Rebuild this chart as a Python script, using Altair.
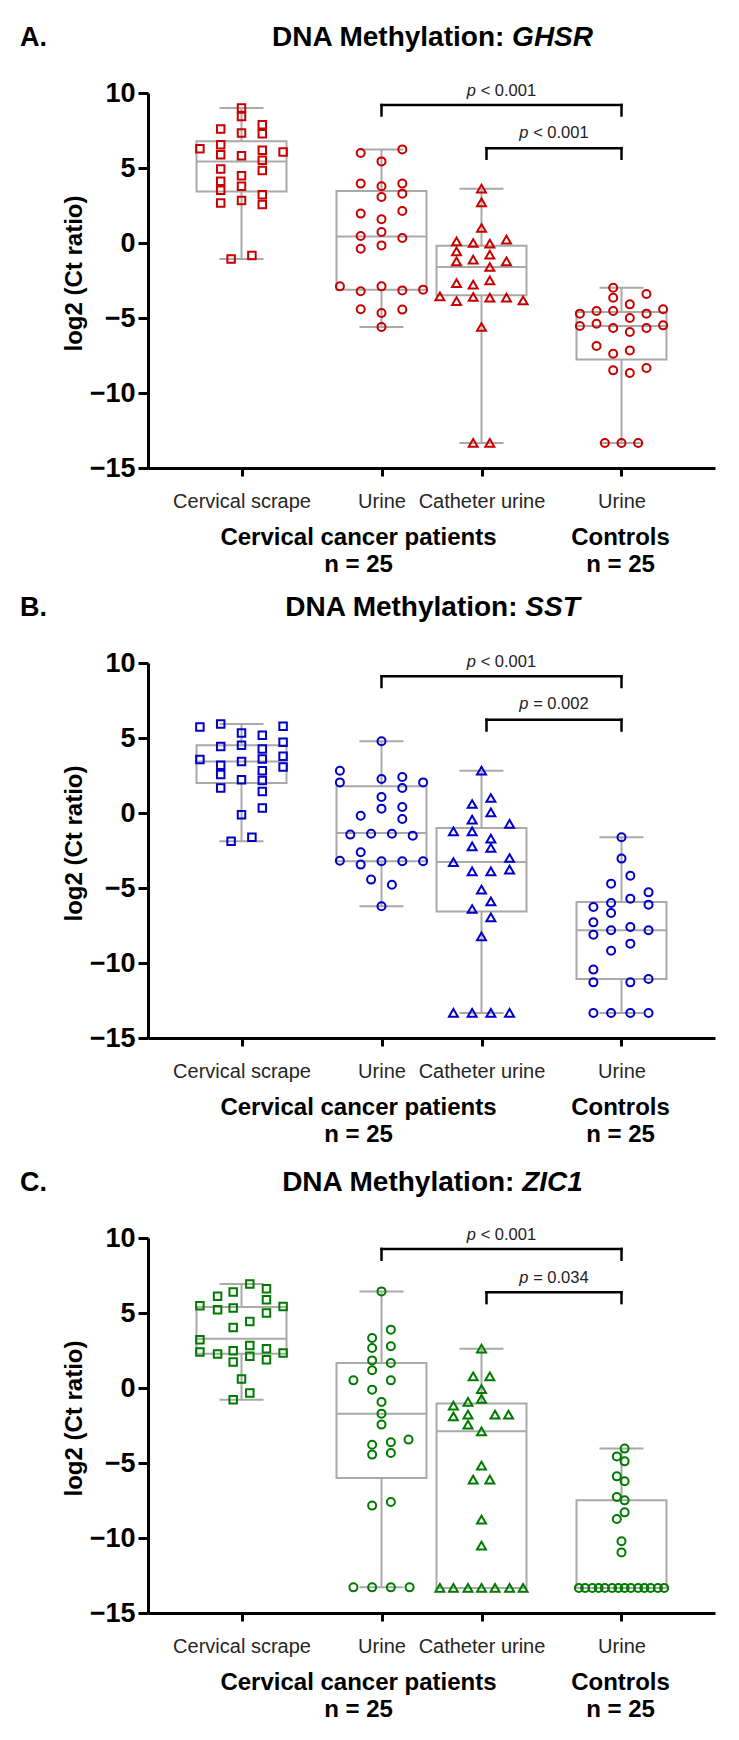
import altair as alt
import pandas as pd

# ---------------- categories / labels ----------------
CATEGORIES = ["Cervical scrape", "Urine", "Catheter urine", "Urine"]
CAT_POS = [1.0, 2.4, 3.4, 4.8]
SHAPES = ["square", "circle", "triangle-up", "circle"]
PANEL_LETTERS = ["A.", "B.", "C."]
PANEL_PREFIX = "DNA Methylation:"
PANEL_GENES = ["GHSR", "SST", "ZIC1"]
PANEL_COLORS = ["#c80000", "#0000c8", "#007a00"]
GROUP_LABELS = ["Cervical cancer patients", "Controls"]
GROUP_N = ["n = 25", "n = 25"]
GROUP_LABEL_POS = [2.17, 4.79]
Y_TICKS = [-15, -10, -5, 0, 5, 10]

# ---------------- panel A: GHSR ----------------
A_SCRAPE = [9.0, 8.44, 7.33, 5.82, 4.49, 3.78, 2.84, 7.6, 6.55, 5.89, 4.93, 4.11, 3.51, 2.67,
            7.89, 7.29, 6.18, 5.51, 4.84, 3.22, 2.56, 6.29, 6.07, -1.07, -0.84]
A_SCRAPE_SLOT = [0, 0, 0, 0, 0, 0, 0, -2, -2, -2, -2, -2, -2, -2, 2, 2, 2, 2, 2, 2, 2, -4, 4, -1, 1]
A_URINE = [6.0, 6.24, 5.44, 3.96, 3.78, 3.96, 3.07, 3.29, 1.96, 2.13, 1.58, 0.47, 0.73, 0.33,
           -0.38, -0.16, -2.89, -3.22, -2.89, -3.16, -3.11, -4.42, -4.67, -4.44, -5.6]
A_URINE_SLOT = [-2, 2, 0, -2, 0, 2, 0, 2, -2, 2, 0, -2, 0, 2, -2, 0, -4, -2, 0, 2, 4, -2, 0, 2, 0]
A_CATH = [3.62, 2.71, 1.0, 0.11, 0.0, -0.04, 0.22, -0.56, -0.78, -1.22, -1.11, -1.6, -1.22,
          -2.67, -2.78, -2.49, -3.56, -3.87, -3.6, -3.64, -3.64, -3.82, -5.6, -13.33, -13.33]
A_CATH_SLOT = [0, 0, 0, -2.4, -0.8, 0.8, 2.4, -2.4, 0.8, -2.4, -0.8, 0.8, 2.4, -2.4, -0.8, 0.8,
               -4, -2.4, -0.8, 0.8, 2.4, 4, 0, -0.8, 0.8]
A_CTRL = [-2.98, -3.65, -3.4, -4.09, -4.71, -4.53, -4.53, -4.71, -4.42, -5.0, -5.53, -5.38, -5.67,
          -5.67, -5.49, -5.93, -6.87, -7.38, -7.16, -8.49, -8.67, -8.33, -13.33, -13.33, -13.33]
A_CTRL_SLOT = [-0.8, -0.8, 2.4, 0.8, -4, -2.4, -0.8, 2.4, 4, 0.8, -4, -2.4, -0.8, 2.4, 4, 0.8,
               -2.4, -0.8, 0.8, -0.8, 0.8, 2.4, -1.6, 0, 1.6]
A_MIN = [-1.07, -5.6, -13.33, -13.33]
A_Q1 = [3.44, -3.11, -3.49, -7.76]
A_MED = [5.44, 0.44, -1.6, -5.53]
A_Q3 = [6.78, 3.47, -0.18, -4.6]
A_MAX = [9.0, 6.24, 3.62, -2.98]
A_BR_Y = [9.2, 6.32]
A_BR_LOW = [8.5, 5.62]
A_P_Y = [10.15, 7.35]
A_P = ["< 0.001", "< 0.001"]

# ---------------- panel B: SST ----------------
B_SCRAPE = [5.73, 5.93, 5.78, 5.33, 5.18, 4.44, 4.51, 4.27, 4.71, 3.56, 3.44, 3.6, 3.78, 3.18,
            2.82, 3.07, 2.56, 2.22, 2.16, 1.67, 1.44, 0.33, -0.11, -1.89, -1.62]
B_SCRAPE_SLOT = [-4, -2, 4, 0, 2, -2, 0, 2, 4, -4, 0, 2, 4, -2, 2, 4, -2, 0, 2, -2, 2, 2, 0, -1, 1]
B_URINE = [4.78, 2.82, 2.04, 2.27, 2.4, 2.04, 1.67, 1.07, 0.29, 0.4, -0.18, -0.4, -1.44, -1.38,
           -1.38, -1.51, -2.62, -3.18, -3.44, -3.22, -3.22, -3.22, -4.44, -4.78, -6.22]
B_URINE_SLOT = [0, -4, -4, 0, 2, 4, 2, 0, 0, 2, -2, 2, -3, -1, 1, 3, -2, -4, -2, 0, 2, 4, -1, 1, 0]
B_CATH = [2.82, 1.0, 0.6, 0.04, -0.44, -0.73, -1.22, -1.22, -1.71, -2.22, -2.33, -3.0, -3.27,
          -3.89, -3.89, -3.78, -5.11, -5.89, -6.4, -6.96, -8.22, -13.33, -13.33, -13.33, -13.33]
B_CATH_SLOT = [0, 0.9, -0.9, 0.9, -0.9, 2.7, -2.7, -0.9, 0.9, -0.9, 0.9, 2.7, -2.7, -0.9, 0.9,
               2.7, 0, 0.9, -0.9, 0.9, 0, -2.7, -0.9, 0.9, 2.7]
B_CTRL = [-1.62, -3.04, -4.18, -4.71, -5.29, -5.71, -6.0, -6.11, -6.27, -6.67, -7.29, -8.11, -7.82,
          -7.6, -7.82, -8.71, -9.18, -10.44, -11.29, -11.29, -11.07, -13.33, -13.33, -13.33, -13.33]
B_CTRL_SLOT = [0, 0, 0.85, -1, 2.6, 0.85, -1, 2.6, -2.7, -1, -2.7, -2.7, -1, 0.85, 2.6, 0.85,
               -1, -2.7, -2.7, 0.85, 2.6, -2.7, -1, 0.85, 2.6]
B_MIN = [-1.89, -6.22, -13.33, -13.33]
B_Q1 = [2.0, -3.22, -6.56, -11.07]
B_MED = [3.44, -1.33, -3.27, -7.82]
B_Q3 = [4.51, 1.78, -1.0, -5.93]
B_MAX = [5.93, 4.78, 2.82, -1.62]
B_BR_Y = [9.11, 6.22]
B_BR_LOW = [8.4, 5.5]
B_P_Y = [10.1, 7.25]
B_P = ["< 0.001", "= 0.002"]

# ---------------- panel C: ZIC1 ----------------
C_SCRAPE = [6.93, 6.11, 6.4, 6.62, 5.89, 5.49, 5.22, 5.33, 5.0, 5.44, 4.44, 4.04, 3.22, 2.4,
            2.27, 2.49, 1.73, 2.84, 2.11, 2.62, 1.89, 2.33, 0.6, -0.33, -0.78]
C_SCRAPE_SLOT = [0.8, -2.3, -0.8, 2.4, 2.4, -4, -2.3, -0.8, 2.4, 4, 0.8, -0.8, -4, -4, -2.3,
                 -0.8, -0.8, 0.8, 0.8, 2.4, 2.4, 4, 0, 0.8, -0.8]
C_URINE = [6.44, 3.89, 3.33, 2.67, 2.78, 1.84, 1.67, 1.18, 0.51, 0.51, -0.11, -0.93, -1.71, -2.44,
           -3.78, -3.62, -3.44, -4.44, -4.33, -7.84, -7.6, -13.29, -13.29, -13.29, -13.29]
C_URINE_SLOT = [0, 0.9, -0.9, -0.9, 0.9, -0.9, 0.9, -0.9, -2.7, 0.9, -0.9, 0, 0, 0, -0.9, 0.9,
                2.6, -0.9, 0.9, -0.9, 0.9, -2.7, -0.9, 0.9, 2.7]
C_CATH = [2.62, 0.78, 0.78, -0.07, -1.18, -0.93, -0.73, -1.89, -1.78, -1.78, -1.78, -2.44, -2.89,
          -5.18, -6.11, -6.11, -8.78, -10.51, -13.33, -13.33, -13.33, -13.33, -13.33, -13.33, -13.33]
C_CATH_SLOT = [0, -0.8, 0.8, 0, -2.7, -1.3, 0, -2.7, -1.3, 1.3, 2.6, -1.3, 0, 0, -0.8, 0.8, 0, 0,
               -4, -2.7, -1.3, 0, 1.3, 2.7, 4]
C_CTRL = [-4.04, -4.56, -4.89, -5.89, -6.22, -7.27, -7.49, -8.29, -8.73, -10.22, -10.96,
          -13.33, -13.33, -13.33, -13.33, -13.33, -13.33, -13.33, -13.33, -13.33, -13.33, -13.33,
          -13.33, -13.33, -13.33]
C_CTRL_SLOT = [0.3, -0.45, 0.3, -0.45, 0.3, -0.45, 0.3, 0.3, -0.45, 0, 0, -4.1, -3.5, -2.8, -2.2,
               -1.6, -0.9, -0.3, 0.3, 0.9, 1.6, 2.2, 2.8, 3.5, 4.1]
C_MIN = [-0.78, -13.29, -13.33, -13.33]
C_Q1 = [2.29, -6.0, -13.33, -13.33]
C_MED = [3.29, -1.71, -2.89, -13.33]
C_Q3 = [5.4, 1.67, -1.04, -7.49]
C_MAX = [6.93, 6.44, 2.62, -4.04]
C_BR_Y = [9.27, 6.38]
C_BR_LOW = [8.55, 5.66]
C_P_Y = [10.2, 7.33]
C_P = ["< 0.001", "= 0.034"]

BRACKET_FROM = [2.4, 3.45]
BRACKET_TO = [4.8, 4.8]

# ---------------- layout / style constants ----------------
FONT = "Liberation Sans, Arial, Helvetica, sans-serif"
PLOT_W, PLOT_H = 567, 375
X_DOMAIN = [0.065, 5.735]
Y_DOMAIN = [-15, 10]
SLOT = 0.104
BOX_HALF = 0.45
CAP_HALF = 0.22
GRAY = "#a9a9a9"
SIZES = {"square": 56, "circle": 64, "triangle-up": 80}
TITLE_FS = 28
P_FS = 16.5

# Arial metrics (em) used to split mixed-style strings
BOLD_W = {"D": .722, "N": .722, "A": .722, " ": .278, "M": .833, "e": .556, "t": .333, "h": .611,
          "y": .556, "l": .278, "a": .556, "i": .278, "o": .611, "n": .611, ":": .333, "G": .778,
          "H": .722, "S": .667, "R": .722, "T": .611, "Z": .611, "I": .278, "C": .722, "1": .556}
REG_W = {"p": .556, " ": .278, "<": .584, "=": .584, "0": .556, ".": .278, "1": .556, "2": .556,
         "3": .556, "4": .556}


def wid(s, table):
    return sum(table[c] for c in s)


x_scale = alt.Scale(domain=X_DOMAIN, nice=False, zero=False)
y_scale = alt.Scale(domain=Y_DOMAIN, nice=False, zero=False)

label_expr = ""
for pos, name in zip(CAT_POS, CATEGORIES):
    label_expr += f"datum.value == {pos} ? '{name}' : "
label_expr += "''"

x_axis = alt.Axis(values=CAT_POS, labelExpr=label_expr, domainColor="black", domainWidth=3,
                  tickColor="black", tickWidth=3, tickSize=8, labelFontSize=20, labelFont=FONT,
                  labelColor="#262626", labelPadding=15, grid=False, labelOverlap=False,
                  labelFlush=False)
y_axis = alt.Axis(values=Y_TICKS, domainColor="black", domainWidth=3, tickColor="black",
                  tickWidth=3, tickSize=10, labelFontSize=27, labelFontWeight="bold",
                  labelFont=FONT, labelColor="black", labelPadding=3, grid=False,
                  titleFontSize=24, titleFontWeight="bold",
                  titleFont=FONT, titleColor="black", titleX=-74, titleY=180,
                  titleBaseline="middle")
Y_TITLE = "log2 (Ct ratio)"


def X(field):
    return alt.X(field, type="quantitative", scale=x_scale, axis=x_axis, title=None)


def Y(field):
    return alt.Y(field, type="quantitative", scale=y_scale, axis=y_axis, title=Y_TITLE)


def make_panel(i, vals, slots, mins, q1s, meds, q3s, maxs, br_y, br_low, p_y, p_txt):
    color = PANEL_COLORS[i]
    rows = []
    for g in range(4):
        for v, s in zip(vals[g], slots[g]):
            rows.append({"x": CAT_POS[g] + s * SLOT, "y": v, "shape": SHAPES[g],
                         "size": SIZES[SHAPES[g]]})
    pts = pd.DataFrame(rows)

    box = pd.DataFrame({
        "c": CAT_POS,
        "xl": [c - BOX_HALF for c in CAT_POS], "xr": [c + BOX_HALF for c in CAT_POS],
        "cl": [c - CAP_HALF for c in CAT_POS], "cr": [c + CAP_HALF for c in CAT_POS],
        "lo": mins, "q1": q1s, "med": meds, "q3": q3s, "hi": maxs,
    })

    br = pd.DataFrame({
        "x1": BRACKET_FROM, "x2": BRACKET_TO,
        "mid": [(a + b) / 2 for a, b in zip(BRACKET_FROM, BRACKET_TO)],
        "ytop": br_y, "ylow": br_low, "ytext": p_y, "ptxt": p_txt,
    })

    gl = pd.DataFrame({"x": GROUP_LABEL_POS, "label": GROUP_LABELS, "n": GROUP_N})
    tt = pd.DataFrame({"letter": [PANEL_LETTERS[i]], "prefix": [PANEL_PREFIX],
                       "gene": [PANEL_GENES[i]]})

    rule = dict(color=GRAY, strokeWidth=2)
    box_rect = alt.Chart(box).mark_rect(fill="white", fillOpacity=0, stroke=GRAY,
                                        strokeWidth=2).encode(
        x=X("xl"), x2="xr", y=Y("q1"), y2="q3")
    med = alt.Chart(box).mark_rule(**rule).encode(x=X("xl"), x2="xr", y=Y("med"))
    wup = alt.Chart(box).mark_rule(**rule).encode(x=X("c"), y=Y("q3"), y2="hi")
    wdn = alt.Chart(box).mark_rule(**rule).encode(x=X("c"), y=Y("lo"), y2="q1")
    capu = alt.Chart(box).mark_rule(**rule).encode(x=X("cl"), x2="cr", y=Y("hi"))
    capd = alt.Chart(box).mark_rule(**rule).encode(x=X("cl"), x2="cr", y=Y("lo"))

    points = alt.Chart(pts).mark_point(filled=False, strokeWidth=2, opacity=1,
                                       color=color).encode(
        x=X("x"), y=Y("y"),
        shape=alt.Shape("shape:N", scale=None),
        size=alt.Size("size:Q", scale=None))

    brk = dict(color="black", strokeWidth=2.5, strokeCap="square")
    bh = alt.Chart(br).mark_rule(**brk).encode(x=X("x1"), x2="x2", y=Y("ytop"))
    bl = alt.Chart(br).mark_rule(**brk).encode(x=X("x1"), y=Y("ylow"), y2="ytop")
    brr = alt.Chart(br).mark_rule(**brk).encode(x=X("x2"), y=Y("ylow"), y2="ytop")

    p_total = wid("p " + p_txt[0], REG_W) * P_FS
    p_end = -p_total / 2 + REG_W["p"] * P_FS
    rest_start = p_end + REG_W[" "] * P_FS
    ptxt_p = alt.Chart(br).mark_text(text="p", fontStyle="italic", align="right",
                                     baseline="middle", dx=p_end, fontSize=P_FS, font=FONT,
                                     color="#222222").encode(x=X("mid"), y=Y("ytext"))
    ptxt_r = alt.Chart(br).mark_text(align="left", baseline="middle", dx=rest_start,
                                     fontSize=P_FS, font=FONT, color="#222222").encode(
        x=X("mid"), y=Y("ytext"), text="ptxt:N")

    glab = alt.Chart(gl).mark_text(fontSize=24, fontWeight="bold", font=FONT, color="black",
                                   baseline="middle").encode(
        x=X("x"), y=alt.value(PLOT_H + 70), text="label:N")
    gn = alt.Chart(gl).mark_text(fontSize=24, fontWeight="bold", font=FONT, color="black",
                                 baseline="middle").encode(
        x=X("x"), y=alt.value(PLOT_H + 97), text="n:N")

    # panel title (bold, gene in italics)
    gene = PANEL_GENES[i]
    total = (wid(PANEL_PREFIX + " ", BOLD_W) + wid(gene, BOLD_W)) * TITLE_FS
    left = 284 - total / 2
    prefix_right = left + wid(PANEL_PREFIX, BOLD_W) * TITLE_FS
    gene_left = left + wid(PANEL_PREFIX + " ", BOLD_W) * TITLE_FS
    t_letter = alt.Chart(tt).mark_text(align="left", baseline="middle", fontSize=27,
                                       fontWeight="bold", font=FONT, color="black").encode(
        x=alt.value(-128), y=alt.value(-55), text="letter:N")
    t_prefix = alt.Chart(tt).mark_text(align="right", baseline="middle", fontSize=TITLE_FS,
                                       fontWeight="bold", font=FONT, color="black").encode(
        x=alt.value(prefix_right), y=alt.value(-55), text="prefix:N")
    t_gene = alt.Chart(tt).mark_text(align="left", baseline="middle", fontSize=TITLE_FS,
                                     fontWeight="bold", fontStyle="italic", font=FONT,
                                     color="black").encode(
        x=alt.value(gene_left), y=alt.value(-55), text="gene:N")

    return alt.layer(box_rect, med, wup, wdn, capu, capd, points, bh, bl, brr, ptxt_p, ptxt_r,
                     glab, gn, t_letter, t_prefix, t_gene).properties(width=PLOT_W,
                                                                       height=PLOT_H)


pA = make_panel(0, [A_SCRAPE, A_URINE, A_CATH, A_CTRL],
                [A_SCRAPE_SLOT, A_URINE_SLOT, A_CATH_SLOT, A_CTRL_SLOT],
                A_MIN, A_Q1, A_MED, A_Q3, A_MAX, A_BR_Y, A_BR_LOW, A_P_Y, A_P)
pB = make_panel(1, [B_SCRAPE, B_URINE, B_CATH, B_CTRL],
                [B_SCRAPE_SLOT, B_URINE_SLOT, B_CATH_SLOT, B_CTRL_SLOT],
                B_MIN, B_Q1, B_MED, B_Q3, B_MAX, B_BR_Y, B_BR_LOW, B_P_Y, B_P)
pC = make_panel(2, [C_SCRAPE, C_URINE, C_CATH, C_CTRL],
                [C_SCRAPE_SLOT, C_URINE_SLOT, C_CATH_SLOT, C_CTRL_SLOT],
                C_MIN, C_Q1, C_MED, C_Q3, C_MAX, C_BR_Y, C_BR_LOW, C_P_Y, C_P)

top = alt.vconcat(pA, pB, spacing=17)
chart = alt.vconcat(top, pC, spacing=22).properties(
    padding={"left": 12, "top": 16, "right": 5, "bottom": 5},
    background="white",
).configure_view(stroke=None)

chart.save("out.html", embed_options={"renderer": "svg", "actions": False})
